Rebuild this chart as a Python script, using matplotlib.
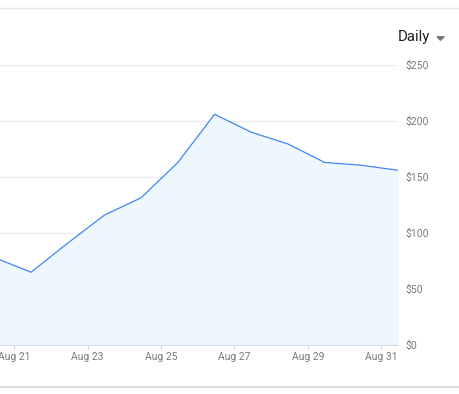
import datetime as dt

import matplotlib
matplotlib.use('Agg')
import matplotlib.pyplot as plt
import matplotlib.dates as mdates
from matplotlib.lines import Line2D

plt.rcParams['font.family'] = ['Roboto', 'DejaVu Sans']

# daily cost samples (timestamps fall late morning of each day)
days = [20, 21, 22, 23, 24, 25, 26, 27, 28, 29, 30, 31]
cost = [78, 65, 91, 116, 131.5, 163, 206, 190, 179.5, 163, 160.5, 156]
dates = [dt.datetime(2019, 8, d, 11) for d in days]

y_ticks = [0, 50, 100, 150, 200, 250]
x_tick_days = [21, 23, 25, 27, 29, 31]

line_color = '#4285f4'
fill_color = '#eef6fe'
grid_color = '#ebebeb'
label_color = '#7a7a7a'

fig = plt.figure(figsize=(4.59, 3.94), dpi=100)
ax = fig.add_axes([0, 49 / 394, 398 / 459, 280 / 394])

ax.fill_between(dates, cost, 0, color=fill_color, linewidth=0)
ax.plot(dates, cost, color=line_color, linewidth=0.9)

ax.set_xlim(dt.datetime(2019, 8, 20, 14, 40), dates[-1])
ax.set_ylim(0, 250)

ax.set_yticks(y_ticks)
ax.set_yticklabels(['$%d' % v for v in y_ticks])
ax.yaxis.tick_right()
ax.tick_params(axis='y', length=0, pad=5, labelsize=7.5, labelcolor=label_color)

ax.xaxis.set_major_locator(mdates.DayLocator(bymonthday=x_tick_days))
ax.xaxis.set_major_formatter(mdates.DateFormatter('%b %d'))
ax.tick_params(axis='x', length=3, width=0.8, color='#d5d5d5', pad=2,
               labelsize=7.5, labelcolor=label_color)

ax.grid(True, axis='y', color=grid_color, linewidth=0.8)
ax.set_axisbelow(True)
for side in ['top', 'left', 'right']:
    ax.spines[side].set_visible(False)
ax.spines['bottom'].set_color('#d8dde6')
ax.spines['bottom'].set_linewidth(0.8)

# card header with dropdown arrow
fig.text(398 / 459, 1 - 37 / 394, 'Daily', fontsize=10.8, color='#212121',
         ha='left', va='center')
arrow = [(-1, 0.5), (1, 0.5), (0, -0.5), (-1, 0.5)]
fig.add_artist(Line2D([440 / 459], [1 - 37.5 / 394], marker=arrow, markersize=5,
                      color='#757575', linestyle='none'))

# card borders
fig.add_artist(Line2D([0, 1], [1 - 8 / 394] * 2, color='#e3e3e3', linewidth=1))
fig.add_artist(Line2D([0, 1], [1 - 387 / 394] * 2, color='#dcdcdc', linewidth=1.5))

plt.savefig('out.png', dpi=100)
